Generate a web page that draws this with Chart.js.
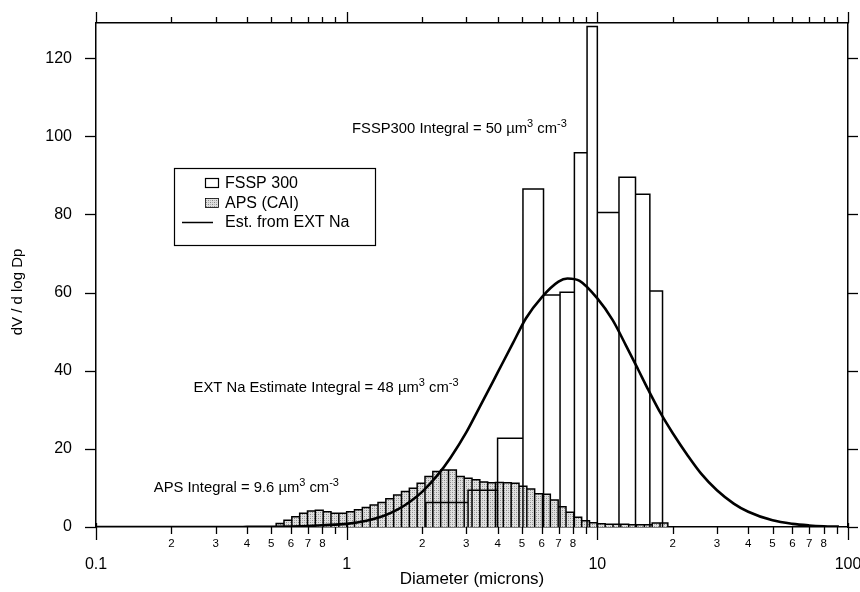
<!DOCTYPE html>
<html>
<head>
<meta charset="utf-8">
<script src="https://cdn.jsdelivr.net/npm/chart.js@4/dist/chart.umd.min.js"></script>
<style>
  html, body { margin: 0; padding: 0; background: #fff; }
  canvas { display: block; }
</style>
</head>
<body>
<canvas id="c" width="860" height="592"></canvas>
<script>
const FONT = '"Liberation Sans", Arial, Helvetica, sans-serif';

// FSSP 300 channel boundaries (µm) and dV/dlogDp per channel
const fsspEdges  = [2.07, 3.05, 4.0, 5.05, 6.1, 7.1, 8.1, 9.1, 10.0, 12.2, 14.2, 16.2, 18.2];
const fsspValues = [6.3, 9.4, 22.7, 86.5, 59.4, 60.1, 95.8, 128.1, 80.5, 89.5, 85.2, 60.4];

// APS (CAI) channel boundaries (µm), 32 channels per decade
const apsEdges = [
  0.5234, 0.5623, 0.6043, 0.6494, 0.6978, 0.7499, 0.8058, 0.8660, 0.9306,
  1.0, 1.0746, 1.1548, 1.2409, 1.3335, 1.4330, 1.5399, 1.6548, 1.7783, 1.9110,
  2.0535, 2.2067, 2.3714, 2.5483, 2.7384, 2.9427, 3.1623, 3.3982, 3.6517, 3.9242,
  4.2170, 4.5316, 4.8697, 5.2330, 5.6234, 6.0430, 6.4938, 6.9783, 7.4989, 8.0584,
  8.6596, 9.3057, 10.0, 10.746, 11.548, 12.409, 13.335, 14.330, 15.399, 16.548,
  17.783, 19.110
];
const apsValues = [
  0.9, 1.7, 2.6, 3.5, 4.1, 4.3, 3.9, 3.5, 3.5,
  3.9, 4.4, 5.0, 5.6, 6.3, 7.2, 8.2, 9.1, 9.9, 11.2,
  12.9, 14.2, 14.6, 14.6, 12.9, 12.5, 12.1, 11.5, 11.3, 11.4,
  11.3, 11.2, 10.4, 9.7, 8.5, 8.4, 6.9, 5.2, 3.8, 2.5,
  1.6, 1.1, 0.8, 0.7, 0.7, 0.7, 0.6, 0.6, 0.6, 1.0,
  1.0
];

// Volume distribution estimated from EXT Na
const extDiameters = [0.1, 0.2, 0.3, 0.4, 0.5, 0.6, 0.7, 0.8, 1.0, 1.2, 1.4, 1.6, 1.8, 2.0,
  2.3, 2.6, 3.0, 3.4, 4.0, 4.6, 5.2, 6.0, 7.0, 7.6, 8.5, 10, 11.5, 13, 14.5, 16, 18, 20,
  23, 26, 30, 35, 40, 50, 60, 70, 80, 92];
const extValues = [0, 0, 0, 0.02, 0.05, 0.12, 0.25, 0.45, 0.8, 1.6, 2.8, 4.5, 6.6, 9.0,
  13.2, 17.8, 24.2, 30.8, 39.5, 47.0, 53.5, 58.8, 62.8, 63.6, 63.0, 58.5, 53.0, 46.5, 40.5, 35.0, 28.8, 24.0,
  18.2, 13.6, 9.4, 6.0, 3.9, 1.7, 0.8, 0.4, 0.2, 0.1];

// Axis ticks and labels
const xTicks = [0.1, 0.2, 0.3, 0.4, 0.5, 0.6, 0.7, 0.8, 0.9,
                1, 2, 3, 4, 5, 6, 7, 8, 9,
                10, 20, 30, 40, 50, 60, 70, 80, 90, 100];
const xTickLabels = ['0.1', '2', '3', '4', '5', '6', '7', '8', '',
                     '1', '2', '3', '4', '5', '6', '7', '8', '',
                     '10', '2', '3', '4', '5', '6', '7', '8', '', '100'];
const xMajorTicks = [0.1, 1, 10, 100];
const yTicks = [0, 20, 40, 60, 80, 100, 120];

const seriesLabels = ['FSSP 300', 'APS (CAI)', 'Est. from EXT Na'];
const notes = [
  { x: 1.05, y: 100.8, parts: [['FSSP300 Integral = 50 \u00b5m'], ['3', 1], [' cm'], ['-3', 1]] },
  { x: 0.245, y: 34.6, parts: [['EXT Na Estimate Integral = 48 \u00b5m'], ['3', 1], [' cm'], ['-3', 1]] },
  { x: 0.17, y: 8.9, parts: [['APS Integral = 9.6 \u00b5m'], ['3', 1], [' cm'], ['-3', 1]] }
];

// Outline of adjoining histogram bars: up, across, back down to zero at each channel
function histogramOutline(edges, values) {
  const pts = [{ x: edges[0], y: 0 }];
  values.forEach((v, i) => {
    pts.push({ x: edges[i], y: v }, { x: edges[i + 1], y: v }, { x: edges[i + 1], y: 0 });
  });
  return pts;
}

function stipple() {
  const c = document.createElement('canvas');
  c.width = 4; c.height = 4;
  const g = c.getContext('2d');
  g.fillStyle = '#e0e0e0'; g.fillRect(0, 0, 4, 4);
  g.fillStyle = '#8a8a8a'; g.fillRect(0, 0, 1, 1); g.fillRect(2, 2, 1, 1);
  g.fillStyle = '#b0b0b0'; g.fillRect(2, 0, 1, 1); g.fillRect(0, 2, 1, 1);
  return g.createPattern(c, 'repeat');
}
const apsFill = stipple();

function line(ctx, x1, y1, x2, y2) {
  ctx.beginPath(); ctx.moveTo(x1, y1); ctx.lineTo(x2, y2); ctx.stroke();
}

function richText(ctx, x, y, parts, size) {
  let cx = x;
  parts.forEach(([t, sup]) => {
    ctx.font = (sup ? Math.round(size * 0.72) : size) + 'px ' + FONT;
    ctx.fillText(t, cx, sup ? y - size * 0.42 : y);
    cx += ctx.measureText(t).width;
  });
}

// Tick marks, y title, notes and the key box
const decor = {
  id: 'decor',
  afterDraw(chart) {
    const { ctx, chartArea: a, scales } = chart;
    ctx.save();
    ctx.strokeStyle = '#000';
    ctx.fillStyle = '#000';
    ctx.lineWidth = 1.3;
    xTicks.forEach(v => {
      const px = Math.round(scales.x.getPixelForValue(v)) + 0.5;
      const major = xMajorTicks.includes(v);
      line(ctx, px, a.bottom - (major ? 4 : 0), px, a.bottom + (major ? 13 : 7));
      line(ctx, px, a.top, px, a.top - (major ? 11 : 6));
    });
    yTicks.forEach(v => {
      const py = Math.round(scales.y.getPixelForValue(v)) + 0.5;
      line(ctx, a.left - 11, py, a.left, py);
      line(ctx, a.right, py, a.right + 10, py);
    });

    // y title
    ctx.save();
    ctx.translate(18, 292);
    ctx.rotate(-Math.PI / 2);
    ctx.font = '15px ' + FONT;
    ctx.textAlign = 'center';
    ctx.textBaseline = 'middle';
    ctx.fillText('dV / d log Dp', 0, 0);
    ctx.restore();

    // integral notes
    ctx.textAlign = 'left';
    ctx.textBaseline = 'alphabetic';
    notes.forEach(n => {
      richText(ctx, scales.x.getPixelForValue(n.x), scales.y.getPixelForValue(n.y), n.parts, 14.8);
    });

    // key
    const bx = 174, by = 168, bw = 201, bh = 77;
    ctx.lineWidth = 1.2;
    ctx.fillStyle = '#fff';
    ctx.fillRect(bx, by, bw, bh);
    ctx.strokeRect(bx + 0.5, by + 0.5, bw, bh);
    ctx.fillStyle = '#000';
    ctx.font = '16px ' + FONT;
    ctx.textBaseline = 'middle';
    const rows = [183, 203, 222];
    ctx.strokeRect(205.5, rows[0] - 4.5, 13, 9);
    ctx.fillStyle = apsFill;
    ctx.fillRect(205.5, rows[1] - 4.5, 13, 9);
    ctx.lineWidth = 0.8;
    ctx.strokeRect(205.5, rows[1] - 4.5, 13, 9);
    ctx.lineWidth = 1.5;
    line(ctx, 182, rows[2] + 0.5, 213, rows[2] + 0.5);
    ctx.fillStyle = '#000';
    seriesLabels.forEach((s, i) => ctx.fillText(s, 225, rows[i] + 1));
    ctx.restore();
  }
};

new Chart(document.getElementById('c'), {
  type: 'line',
  data: {
    datasets: [
      {
        label: seriesLabels[2],
        data: extDiameters.map((d, i) => ({ x: d, y: extValues[i] })),
        borderColor: '#000', borderWidth: 2.6, pointRadius: 0, fill: false,
        tension: 0.4, cubicInterpolationMode: 'monotone'
      },
      {
        label: seriesLabels[0],
        data: histogramOutline(fsspEdges, fsspValues),
        borderColor: '#000', borderWidth: 1.5, pointRadius: 0, fill: false,
        tension: 0, borderJoinStyle: 'miter'
      },
      {
        label: seriesLabels[1],
        data: histogramOutline(apsEdges, apsValues),
        borderColor: '#000', borderWidth: 1.5, pointRadius: 0,
        fill: 'origin', backgroundColor: apsFill,
        tension: 0, borderJoinStyle: 'miter'
      }
    ]
  },
  options: {
    responsive: false,
    animation: false,
    events: [],
    layout: { padding: 0 },
    plugins: { legend: { display: false }, tooltip: { enabled: false } },
    scales: {
      x: {
        type: 'logarithmic', position: 'bottom', min: 0.1, max: 100,
        afterBuildTicks: s => { s.ticks = xTicks.map(v => ({ value: v, major: xMajorTicks.includes(v) })); },
        afterFit: s => { s.height = 65; s.paddingLeft = 0; s.paddingRight = 0; },
        grid: { display: false, drawTicks: false },
        border: { display: true, color: '#000', width: 1.5 },
        ticks: {
          autoSkip: false, maxRotation: 0, minRotation: 0, padding: 10, color: '#000',
          callback: (v, i) => xMajorTicks.includes(xTicks[i]) ? ['', xTickLabels[i]] : xTickLabels[i],
          font: c => (c.tick && c.tick.major)
            ? { family: FONT, size: 16, lineHeight: 1.15 }
            : { family: FONT, size: 11.5 }
        },
        title: {
          display: true, text: 'Diameter (microns)', color: '#000',
          font: { family: FONT, size: 17 }, padding: { top: 0, bottom: 2 }
        }
      },
      x2: {
        type: 'logarithmic', position: 'top', min: 0.1, max: 100,
        afterFit: s => { s.height = 23; s.paddingLeft = 0; s.paddingRight = 0; },
        grid: { display: false, drawTicks: false },
        border: { display: true, color: '#000', width: 1.5 },
        ticks: { display: false }
      },
      y: {
        type: 'linear', position: 'left', min: 0, max: 129,
        afterBuildTicks: s => { s.ticks = yTicks.map(v => ({ value: v })); },
        afterFit: s => { s.width = 96; s.paddingTop = 0; s.paddingBottom = 0; },
        grid: { display: false, drawTicks: false },
        border: { display: true, color: '#000', width: 1.5 },
        ticks: { padding: 24, color: '#000', font: { family: FONT, size: 16 } }
      },
      y2: {
        type: 'linear', position: 'right', min: 0, max: 129,
        afterFit: s => { s.width = 12; s.paddingTop = 0; s.paddingBottom = 0; },
        grid: { display: false, drawTicks: false },
        border: { display: true, color: '#000', width: 1.5 },
        ticks: { display: false }
      }
    }
  },
  plugins: [decor]
});
</script>
</body>
</html>
